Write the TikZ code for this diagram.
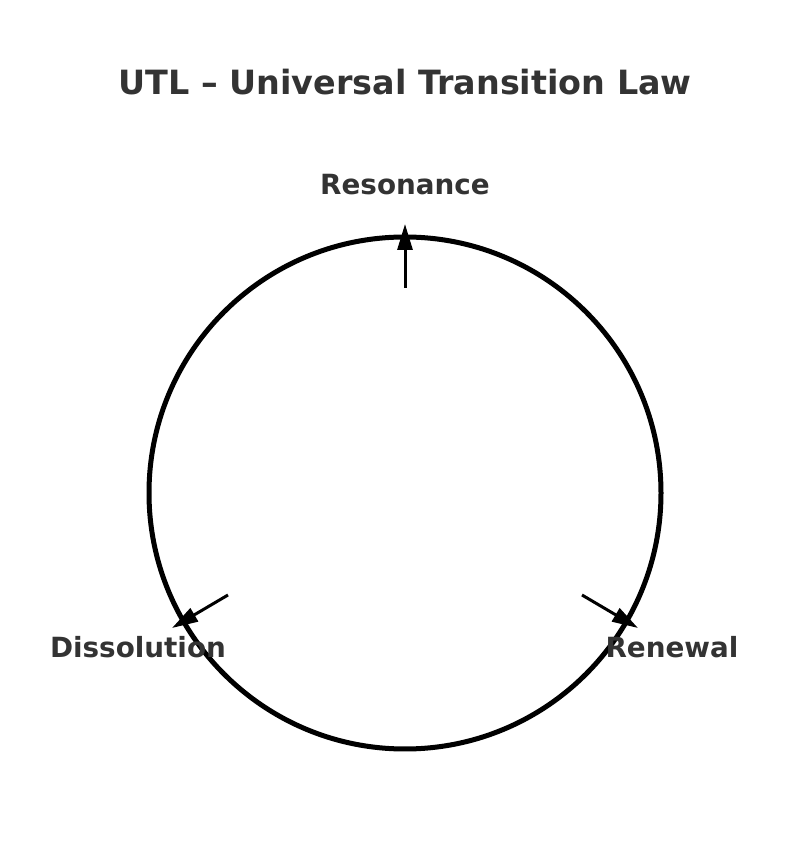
\documentclass[tikz,border=0pt]{standalone}
\usepackage{fontspec}
\setmainfont{DejaVu Sans}
\usetikzlibrary{arrows.meta}
\definecolor{txt}{HTML}{333333}
\begin{document}
\begin{tikzpicture}[x=1pt,y=1pt,
  lbl/.style={text=txt,font=\bfseries\fontsize{27.8}{32}\selectfont,inner sep=0pt},
  ttl/.style={text=txt,font=\bfseries\fontsize{33.4}{38}\selectfont,inner sep=0pt},
  flow/.style={line width=3pt,-{Triangle[length=26pt,width=15pt]}}]
\useasboundingbox (0,0) rectangle (809,852);
\node[ttl] (title) at (405,770) {UTL – Universal Transition Law};
\node[draw,circle,line width=5pt,minimum size=512pt,inner sep=0pt] (cyc) at (405,359) {};
\coordinate (ts) at (405,564);
\coordinate (te) at (405,628);
\coordinate (rs) at (582,257);
\coordinate (re) at (638,224);
\coordinate (ls) at (228,257);
\coordinate (le) at (172,224);
\draw[flow] (ts) -- (te);
\draw[flow] (rs) -- (re);
\draw[flow] (ls) -- (le);
\node[lbl] (res) at (405,667) {Resonance};
\node[lbl] (dis) at (138,205) {Dissolution};
\node[lbl] (ren) at (672,205) {Renewal};
\end{tikzpicture}
\end{document}
